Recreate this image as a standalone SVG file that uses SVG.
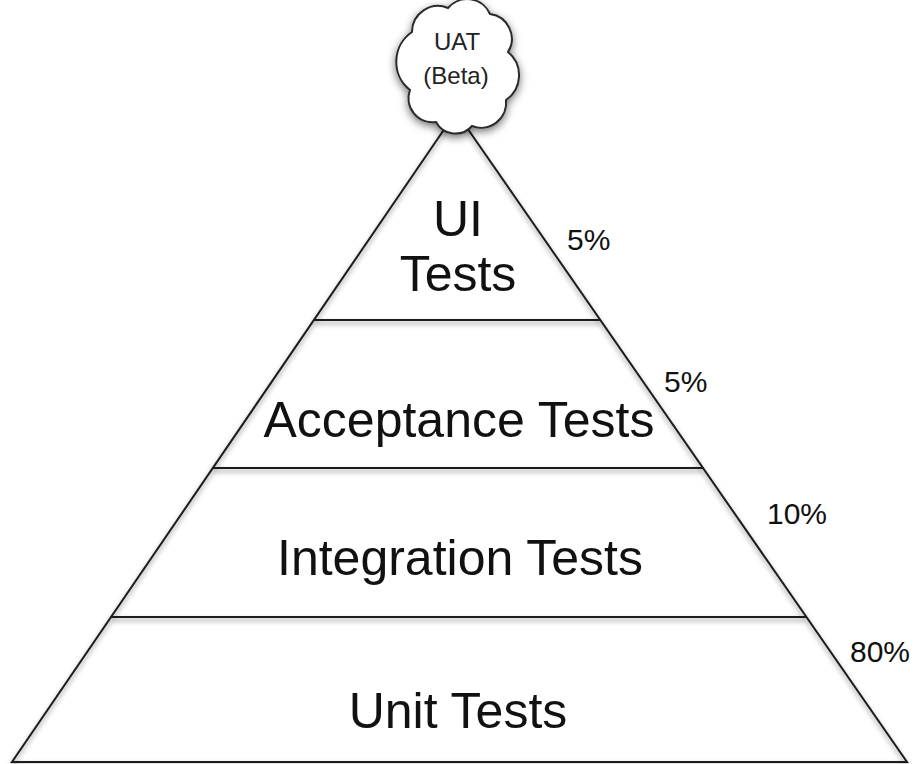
<svg xmlns="http://www.w3.org/2000/svg" width="917" height="764" viewBox="0 0 917 764">
  <defs>
    <filter id="soft" x="-10%" y="-10%" width="120%" height="125%">
      <feDropShadow dx="0" dy="3" stdDeviation="2.5" flood-color="#000" flood-opacity="0.45"/>
    </filter>
    <filter id="cloudShadow" x="-20%" y="-20%" width="140%" height="140%">
      <feDropShadow dx="0" dy="3" stdDeviation="4" flood-color="#000" flood-opacity="0.55"/>
    </filter>
    <style>
      .edge { fill: none; stroke: #1e1e1e; stroke-width: 2; stroke-linecap: round; }
      .tier { font-family: "Liberation Sans", Arial, Helvetica, sans-serif; font-size: 50px; fill: #111; text-anchor: middle; }
      .pct { font-family: "Liberation Sans", Arial, Helvetica, sans-serif; font-size: 30px; fill: #111; }
      .cloudText { font-family: "Liberation Sans", Arial, Helvetica, sans-serif; font-size: 24px; fill: #222; text-anchor: middle; }
    </style>
  </defs>

  <rect width="917" height="764" fill="#ffffff"/>

  <!-- pyramid outline and tier dividers -->
  <g id="connectors" filter="url(#soft)">
    <path class="edge" d="M456 112 L12 762 L907 762 Z"/>
    <line class="edge" x1="314" y1="320" x2="600" y2="320"/>
    <line class="edge" x1="213" y1="468" x2="703" y2="468"/>
    <line class="edge" x1="111" y1="617" x2="806" y2="617"/>
  </g>

  <!-- tiers -->
  <g id="tier-ui">
    <text class="tier" x="458" y="236">UI</text>
    <text class="tier" x="458" y="291">Tests</text>
  </g>
  <g id="tier-acceptance">
    <text class="tier" x="459" y="437">Acceptance Tests</text>
  </g>
  <g id="tier-integration">
    <text class="tier" x="460" y="575">Integration Tests</text>
  </g>
  <g id="tier-unit">
    <text class="tier" x="458" y="728">Unit Tests</text>
  </g>

  <!-- share of tests per tier -->
  <g id="share-labels">
    <text class="pct" x="567" y="250">5%</text>
    <text class="pct" x="664" y="392">5%</text>
    <text class="pct" x="767" y="524">10%</text>
    <text class="pct" x="850" y="662">80%</text>
  </g>

  <!-- UAT cloud on top of the pyramid -->
  <g id="uat-cloud">
    <path filter="url(#cloudShadow)" fill="#ffffff" stroke="#2a2a2a" stroke-width="2"
      d="M410 90
         A36 36 0 0 1 412 32
         A26 26 0 0 1 448 8
         A25 25 0 0 1 490 14
         A25 25 0 0 1 508 52
         A30 30 0 0 1 506 100
         A25 25 0 0 1 472 126
         A22 22 0 0 1 436 122
         A24 24 0 0 1 410 90 Z"/>
    <text class="cloudText" x="457" y="50">UAT</text>
    <text class="cloudText" x="456" y="84">(Beta)</text>
  </g>
</svg>
